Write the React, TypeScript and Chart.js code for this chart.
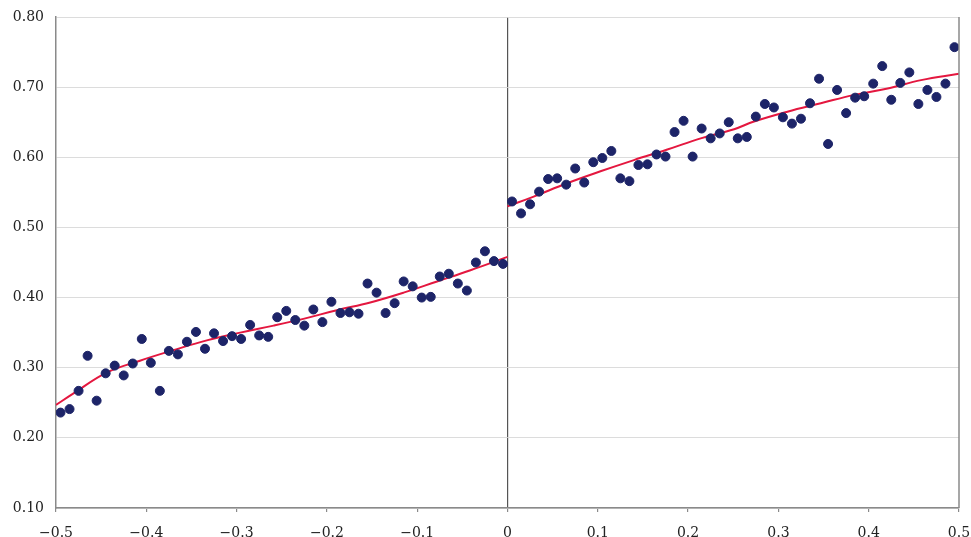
import React, { useEffect, useRef } from "react";
import { Chart, registerables } from "chart.js";

Chart.register(...registerables);

const leftX: number[] = [-0.495,-0.485,-0.475,-0.465,-0.455,-0.445,-0.435,-0.425,-0.415,-0.405,-0.395,-0.385,-0.375,-0.365,-0.355,-0.345,-0.335,-0.325,-0.315,-0.305,-0.295,-0.285,-0.275,-0.265,-0.255,-0.245,-0.235,-0.225,-0.215,-0.205,-0.195,-0.185,-0.175,-0.165,-0.155,-0.145,-0.135,-0.125,-0.115,-0.105,-0.095,-0.085,-0.075,-0.065,-0.055,-0.045,-0.035,-0.025,-0.015,-0.005];
const leftY: number[] = [0.236,0.241,0.267,0.317,0.253,0.292,0.303,0.289,0.306,0.341,0.307,0.267,0.324,0.319,0.337,0.351,0.327,0.349,0.338,0.345,0.341,0.361,0.346,0.344,0.372,0.381,0.368,0.360,0.383,0.365,0.394,0.378,0.379,0.377,0.420,0.407,0.378,0.392,0.423,0.416,0.400,0.401,0.430,0.434,0.420,0.410,0.450,0.466,0.452,0.448];
const rightX: number[] = [0.005,0.015,0.025,0.035,0.045,0.055,0.065,0.075,0.085,0.095,0.105,0.115,0.125,0.135,0.145,0.155,0.165,0.175,0.185,0.195,0.205,0.215,0.225,0.235,0.245,0.255,0.265,0.275,0.285,0.295,0.305,0.315,0.325,0.335,0.345,0.355,0.365,0.375,0.385,0.395,0.405,0.415,0.425,0.435,0.445,0.455,0.465,0.475,0.485,0.495];
const rightY: number[] = [0.537,0.520,0.533,0.551,0.569,0.570,0.561,0.584,0.564,0.593,0.599,0.609,0.570,0.566,0.589,0.590,0.604,0.601,0.636,0.652,0.601,0.641,0.627,0.634,0.650,0.627,0.629,0.658,0.676,0.671,0.657,0.648,0.655,0.677,0.712,0.619,0.696,0.663,0.685,0.687,0.705,0.730,0.682,0.706,0.721,0.676,0.696,0.686,0.705,0.757];

const fitLeftX: number[] = [-0.5,-0.481,-0.444,-0.407,-0.370,-0.333,-0.296,-0.259,-0.225,-0.189,-0.152,-0.115,-0.078,-0.041,0];
const fitLeftY: number[] = [0.247,0.263,0.293,0.310,0.325,0.339,0.350,0.360,0.370,0.382,0.393,0.407,0.423,0.439,0.458];
const fitRightX: number[] = [0,0.029,0.066,0.103,0.140,0.177,0.214,0.251,0.273,0.310,0.347,0.384,0.421,0.458,0.5];
const fitRightY: number[] = [0.530,0.544,0.563,0.580,0.596,0.611,0.627,0.640,0.651,0.665,0.677,0.689,0.698,0.710,0.719];

const fmtX = (v: number) => {
  if (Math.abs(v) < 1e-9) return "0";
  return (v < 0 ? "\u2212" : "") + Math.abs(v).toFixed(1);
};

export default function App() {
  const ref = useRef<HTMLCanvasElement | null>(null);
  useEffect(() => {
    if (!ref.current) return;
    const pts = (xs: number[], ys: number[]) => xs.map((x, i) => ({ x, y: ys[i] }));
    const borderPlugin = {
      id: "boxBorder",
      afterDatasetsDraw(chart: any) {
        const { ctx, chartArea: a } = chart;
        ctx.save();
        ctx.strokeStyle = "#8a8a8a";
        ctx.lineWidth = 1.5;
        ctx.beginPath();
        ctx.moveTo(a.right, a.top);
        ctx.lineTo(a.right, a.bottom);
        ctx.stroke();
        ctx.restore();
      },
    };
    const chart = new Chart(ref.current, {
      type: "scatter",
      data: {
        datasets: [
          {
            type: "line",
            data: pts(fitLeftX, fitLeftY),
            borderColor: "#e4173f",
            borderWidth: 2,
            pointRadius: 0,
            tension: 0.4,
            fill: false,
            order: 2,
          },
          {
            type: "line",
            data: pts(fitRightX, fitRightY),
            borderColor: "#e4173f",
            borderWidth: 2,
            pointRadius: 0,
            tension: 0.4,
            fill: false,
            order: 2,
          },
          {
            data: pts(leftX, leftY),
            backgroundColor: "#1d2468",
            borderColor: "#1d2468",
            pointRadius: 4.5,
            order: 1,
          },
          {
            data: pts(rightX, rightY),
            backgroundColor: "#1d2468",
            borderColor: "#1d2468",
            pointRadius: 4.5,
            order: 1,
          },
        ],
      },
      options: {
        animation: false,
        responsive: false,
        layout: { padding: { top: 17, right: 12, left: 0, bottom: 0 } },
        plugins: { legend: { display: false }, tooltip: { enabled: false } },
        scales: {
          x: {
            type: "linear",
            min: -0.5,
            max: 0.5,
            ticks: {
              stepSize: 0.1,
              callback: (v: any) => fmtX(Number(v)),
              color: "#222",
              font: { family: "DejaVu Serif", size: 14 },
              padding: 13,
              maxRotation: 0,
            },
            grid: {
              color: (c: any) => (c.tick && Math.abs(c.tick.value) < 1e-9 ? "#555" : "rgba(0,0,0,0)"),
              lineWidth: 1.2,
              tickColor: "#8a8a8a",
              tickLength: 4,
              drawOnChartArea: true,
            },
            border: { color: "#8a8a8a", width: 1.5 },
            afterFit: (s: any) => {
              s.height = 29;
              s.paddingLeft = 0;
              s.paddingRight = 0;
            },
          },
          y: {
            type: "linear",
            min: 0.1,
            max: 0.8,
            ticks: {
              stepSize: 0.1,
              callback: (v: any) => Number(v).toFixed(2),
              color: "#222",
              font: { family: "DejaVu Serif", size: 14 },
              padding: 12,
            },
            grid: { color: "#dcdcdc", lineWidth: 1, drawTicks: false },
            border: { color: "#8a8a8a", width: 1.5 },
            afterFit: (s: any) => {
              s.width = 56;
              s.paddingTop = 0;
              s.paddingBottom = 0;
            },
          },
        },
      },
      plugins: [borderPlugin],
    } as any);
    return () => chart.destroy();
  }, []);
  return (
    <div style={{ position: "fixed", left: 0, top: 0, width: 971, height: 537, background: "#fff" }}>
      <canvas ref={ref} width={971} height={537} style={{ width: 971, height: 537 }} />
    </div>
  );
}
